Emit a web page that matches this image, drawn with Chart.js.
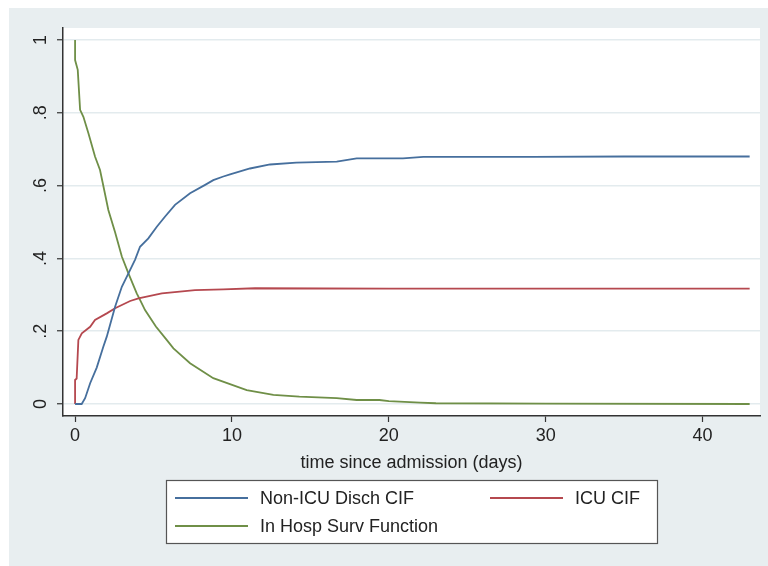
<!DOCTYPE html>
<html>
<head>
<meta charset="utf-8">
<script src="https://cdn.jsdelivr.net/npm/chart.js@4"></script>
<style>
  html, body { margin: 0; padding: 0; background: #fff; }
  #wrap { position: absolute; left: 9px; top: 8px; width: 759px; height: 558px; background: #e8eef0; }
</style>
</head>
<body>
<div id="wrap"><canvas id="chart" width="759" height="558"></canvas></div>
<script>
const seriesNames = ['Non-ICU Disch CIF', 'ICU CIF', 'In Hosp Surv Function'];
const seriesColors = ['#466f9d', '#b5484f', '#6f8f47'];

const nonIcuX = [0, 0.42, 0.64, 0.96, 1.38, 1.80, 2.02, 2.55, 2.98, 3.40, 3.82, 4.14, 4.67, 5.21, 5.74, 6.37, 7.33, 8.29, 8.81, 9.45, 9.88, 11.15, 12.43, 14.1, 16.68, 17.95, 20.9, 22.2, 29.2, 35, 43];
const nonIcuY = [0, 0, 0.016, 0.057, 0.10, 0.157, 0.185, 0.267, 0.322, 0.359, 0.396, 0.432, 0.455, 0.487, 0.515, 0.547, 0.579, 0.602, 0.615, 0.625, 0.631, 0.647, 0.658, 0.663, 0.666, 0.675, 0.675, 0.679, 0.679, 0.68, 0.68];

const icuX = [0, 0, 0.1, 0.21, 0.43, 0.96, 1.27, 2.02, 2.55, 3.51, 4.04, 5.53, 7.65, 9.45, 11.47, 20, 43];
const icuY = [0, 0.066, 0.07, 0.176, 0.194, 0.212, 0.231, 0.249, 0.263, 0.283, 0.29, 0.304, 0.313, 0.315, 0.318, 0.317, 0.317];

const survX = [0, 0, 0.17, 0.32, 0.53, 0.85, 1.27, 1.59, 1.75, 2.12, 2.55, 2.98, 3.40, 3.93, 4.14, 4.46, 5.15, 5.84, 6.27, 7.33, 8.81, 10.94, 12.64, 14.3, 16.68, 17.95, 19.4, 20, 22, 23, 30, 43];
const survY = [1.0, 0.945, 0.918, 0.808, 0.789, 0.744, 0.68, 0.643, 0.61, 0.533, 0.472, 0.405, 0.359, 0.304, 0.286, 0.258, 0.213, 0.176, 0.153, 0.112, 0.071, 0.038, 0.025, 0.02, 0.016, 0.011, 0.011, 0.008, 0.004, 0.002, 0.001, 0.0];

const xTicks = [0, 10, 20, 30, 40];
const yTicks = [0, 0.2, 0.4, 0.6, 0.8, 1];
const yTickLabels = ['0', '.2', '.4', '.6', '.8', '1'];
const xTitle = 'time since admission (days)';

const FONT = '"Liberation Sans", Arial, Helvetica, sans-serif';
const toPoints = (xs, ys) => xs.map((x, i) => ({ x: x, y: ys[i] }));

// white plot region + rotated y labels + stata-style legend box
const stataLook = {
    id: 'stataLook',
    beforeDraw(chart) {
        const { ctx, chartArea: a } = chart;
        ctx.save();
        ctx.fillStyle = '#ffffff';
        ctx.fillRect(a.left, a.top, a.right - a.left, a.bottom - a.top);
        ctx.restore();
    },
    afterDraw(chart) {
        const ctx = chart.ctx;
        const ys = chart.scales.y;
        ctx.save();
        ctx.fillStyle = '#222';
        ctx.font = '18px ' + FONT;
        ctx.textAlign = 'center';
        ctx.textBaseline = 'middle';
        yTicks.forEach((v, i) => {
            const py = ys.getPixelForValue(v);
            ctx.save();
            ctx.translate(32, py);
            ctx.rotate(-Math.PI / 2);
            ctx.fillText(yTickLabels[i], 0, 0);
            ctx.restore();
        });

        // legend
        const bx = 157, by = 472, bw = 491, bh = 63;
        ctx.fillStyle = '#ffffff';
        ctx.fillRect(bx, by, bw, bh);
        ctx.strokeStyle = '#555';
        ctx.lineWidth = 1.2;
        ctx.strokeRect(bx + 0.5, by + 0.5, bw, bh);
        const slots = [
            { lx: 166, tx: 251, y: 490 },
            { lx: 481, tx: 566, y: 490 },
            { lx: 166, tx: 251, y: 518 }
        ];
        ctx.textAlign = 'left';
        ctx.font = '18px ' + FONT;
        chart.data.datasets.forEach((ds, i) => {
            const s = slots[i];
            ctx.strokeStyle = ds.borderColor;
            ctx.lineWidth = 1.8;
            ctx.beginPath();
            ctx.moveTo(s.lx, s.y);
            ctx.lineTo(s.lx + 73, s.y);
            ctx.stroke();
            ctx.fillStyle = '#222';
            ctx.fillText(ds.label, s.tx, s.y + 1);
        });
        ctx.restore();
    }
};

new Chart(document.getElementById('chart'), {
    type: 'line',
    data: {
        datasets: [
            { label: seriesNames[0], data: toPoints(nonIcuX, nonIcuY), borderColor: seriesColors[0] },
            { label: seriesNames[1], data: toPoints(icuX, icuY), borderColor: seriesColors[1] },
            { label: seriesNames[2], data: toPoints(survX, survY), borderColor: seriesColors[2] }
        ]
    },
    options: {
        responsive: false,
        animation: false,
        layout: { padding: { top: 20, right: 8, left: 0, bottom: 84 } },
        elements: {
            point: { radius: 0 },
            line: { borderWidth: 1.8, tension: 0 }
        },
        plugins: { legend: { display: false }, tooltip: { enabled: false } },
        scales: {
            x: {
                type: 'linear',
                min: -0.77,
                max: 43.66,
                afterBuildTicks: s => { s.ticks = xTicks.map(v => ({ value: v })); },
                afterFit: s => { s.height = 66; },
                grid: { drawOnChartArea: false, drawTicks: true, tickLength: 6, tickColor: '#333', tickWidth: 1.2 },
                border: { display: true, color: '#333', width: 1.5 },
                ticks: { color: '#222', font: { family: FONT, size: 18 }, padding: 3, maxRotation: 0 },
                title: { display: true, text: xTitle, color: '#222', font: { family: FONT, size: 18 }, padding: { top: 0, bottom: 8 } }
            },
            y: {
                type: 'linear',
                min: -0.033,
                max: 1.033,
                afterBuildTicks: s => { s.ticks = yTicks.map(v => ({ value: v })); },
                afterFit: s => { s.width = 54; },
                grid: { color: '#e3ebee', lineWidth: 1.5, drawTicks: true, tickLength: 6, tickColor: '#333', tickWidth: 1.2 },
                border: { display: true, color: '#333', width: 1.5 },
                ticks: { display: false }
            }
        }
    },
    plugins: [stataLook]
});
</script>
</body>
</html>
